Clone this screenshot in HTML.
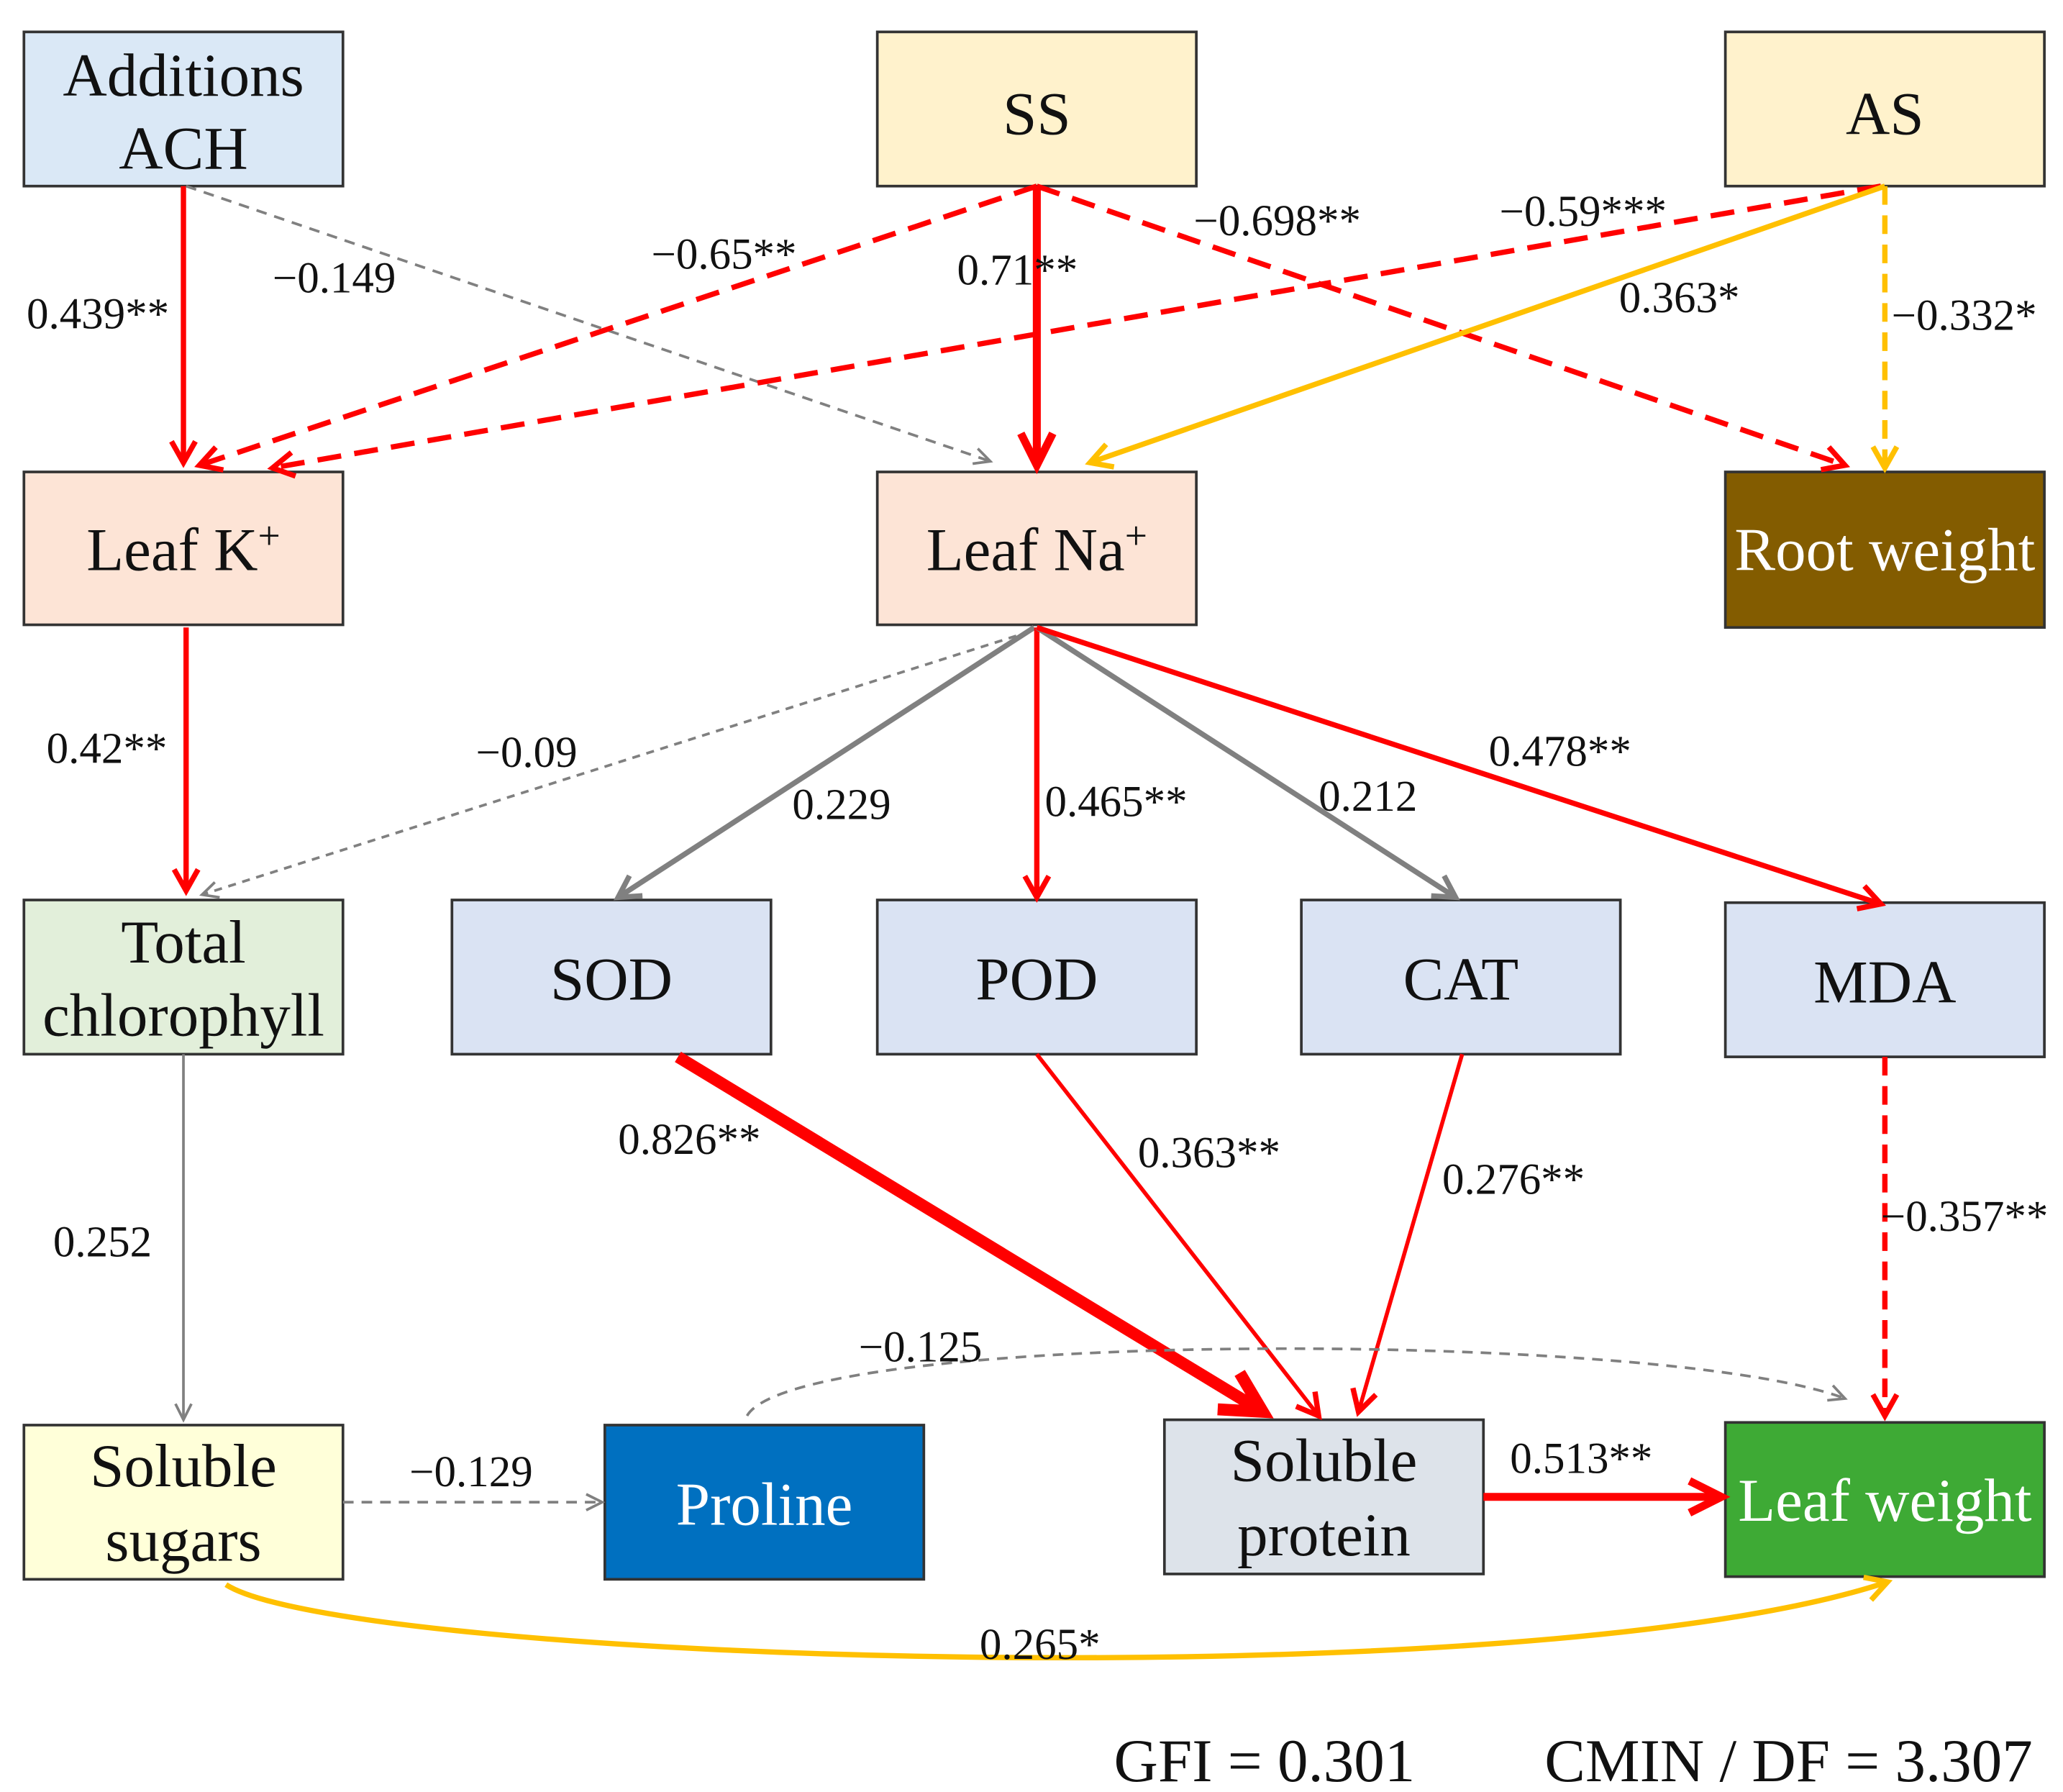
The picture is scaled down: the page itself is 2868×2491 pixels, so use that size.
<!DOCTYPE html>
<html><head><meta charset="utf-8"><style>
html,body{margin:0;padding:0;background:#fff;}
svg{display:block;}
text{font-family:"Liberation Serif",serif;}
</style></head><body>
<svg width="2868" height="2491" viewBox="0 0 1552 1348" xmlns="http://www.w3.org/2000/svg">
<defs>
<marker id="mr" markerUnits="userSpaceOnUse" markerWidth="1" markerHeight="1" refX="0" refY="0" orient="auto" overflow="visible"><path d="M-16,-9 L0,0 L-16,9" fill="none" stroke="#ff0000" stroke-width="4" stroke-dasharray="none"/></marker>
<marker id="mrb" markerUnits="userSpaceOnUse" markerWidth="1" markerHeight="1" refX="0" refY="0" orient="auto" overflow="visible"><path d="M-24,-12 L0,0 L-24,12" fill="none" stroke="#ff0000" stroke-width="6" stroke-dasharray="none"/></marker>
<marker id="mrh" markerUnits="userSpaceOnUse" markerWidth="1" markerHeight="1" refX="0" refY="0" orient="auto" overflow="visible"><path d="M-30,-16 L0,0 L-30,16" fill="none" stroke="#ff0000" stroke-width="9" stroke-dasharray="none"/></marker>
<marker id="mg" markerUnits="userSpaceOnUse" markerWidth="1" markerHeight="1" refX="0" refY="0" orient="auto" overflow="visible"><path d="M-12,-6 L0,0 L-12,6" fill="none" stroke="#808080" stroke-width="2" stroke-dasharray="none"/></marker>
<marker id="mgt" markerUnits="userSpaceOnUse" markerWidth="1" markerHeight="1" refX="0" refY="0" orient="auto" overflow="visible"><path d="M-16,-9 L0,0 L-16,9" fill="none" stroke="#808080" stroke-width="4" stroke-dasharray="none"/></marker>
<marker id="mo" markerUnits="userSpaceOnUse" markerWidth="1" markerHeight="1" refX="0" refY="0" orient="auto" overflow="visible"><path d="M-16,-9 L0,0 L-16,9" fill="none" stroke="#ffc000" stroke-width="4" stroke-dasharray="none"/></marker>
</defs>
<rect width="1552" height="1348" fill="#fff"/>
<g stroke="#333" stroke-width="2">
<rect x="18" y="24" width="240" height="116" fill="#dae8f6"/>
<rect x="660" y="24" width="240" height="116" fill="#fff2cc"/>
<rect x="1298" y="24" width="240" height="116" fill="#fff2cc"/>
<rect x="18" y="355" width="240" height="115" fill="#fde4d6"/>
<rect x="660" y="355" width="240" height="115" fill="#fde4d6"/>
<rect x="1298" y="355" width="240" height="117" fill="#835c00"/>
<rect x="18" y="677" width="240" height="116" fill="#e2efda"/>
<rect x="340" y="677" width="240" height="116" fill="#dae3f3"/>
<rect x="660" y="677" width="240" height="116" fill="#dae3f3"/>
<rect x="979" y="677" width="240" height="116" fill="#dae3f3"/>
<rect x="1298" y="679" width="240" height="116" fill="#dae3f3"/>
<rect x="18" y="1072" width="240" height="116" fill="#ffffd9"/>
<rect x="455" y="1072" width="240" height="116" fill="#0070c0"/>
<rect x="876" y="1068" width="240" height="116" fill="#dde3ea"/>
<rect x="1298" y="1070" width="240" height="116" fill="#3eaa35"/>
</g>
<g font-size="46" text-anchor="middle" fill="#111">
<text x="138" y="72">Additions</text><text x="138" y="127">ACH</text>
<text x="780" y="101">SS</text>
<text x="1418" y="101">AS</text>
<text x="138" y="429">Leaf K<tspan font-size="30" dy="-16">+</tspan></text>
<text x="780" y="429">Leaf Na<tspan font-size="30" dy="-16">+</tspan></text>
<text x="1418" y="429" fill="#fff">Root weight</text>
<text x="138" y="724">Total</text><text x="138" y="779">chlorophyll</text>
<text x="460" y="752">SOD</text>
<text x="780" y="752">POD</text>
<text x="1099" y="752">CAT</text>
<text x="1418" y="754">MDA</text>
<text x="138" y="1118">Soluble</text><text x="138" y="1174">sugars</text>
<text x="575" y="1147" fill="#fff">Proline</text>
<text x="996" y="1114">Soluble</text><text x="996" y="1170">protein</text>
<text x="1418" y="1144" fill="#fff">Leaf weight</text>
</g>
<g fill="none">
<line x1="138" y1="140" x2="138" y2="348" stroke="#ff0000" stroke-width="4" marker-end="url(#mr)"/>
<line x1="140" y1="140" x2="745" y2="347" stroke="#808080" stroke-width="2" stroke-dasharray="8,6" marker-end="url(#mg)"/>
<line x1="780" y1="140" x2="150" y2="350" stroke="#ff0000" stroke-width="4" stroke-dasharray="18,10" marker-end="url(#mr)"/>
<line x1="1415" y1="140" x2="205" y2="352" stroke="#ff0000" stroke-width="4" stroke-dasharray="18,10" marker-end="url(#mr)"/>
<line x1="780" y1="140" x2="780" y2="350" stroke="#ff0000" stroke-width="6" marker-end="url(#mrb)"/>
<line x1="780" y1="140" x2="1388" y2="350" stroke="#ff0000" stroke-width="4" stroke-dasharray="18,10" marker-end="url(#mr)"/>
<line x1="1418" y1="140" x2="820" y2="348" stroke="#ffc000" stroke-width="4" marker-end="url(#mo)"/>
<line x1="1418" y1="140" x2="1418" y2="352" stroke="#ffc000" stroke-width="4" stroke-dasharray="14,8" marker-end="url(#mo)"/>
<line x1="140" y1="472" x2="140" y2="670" stroke="#ff0000" stroke-width="4" marker-end="url(#mr)"/>
<line x1="775" y1="475" x2="152" y2="673" stroke="#808080" stroke-width="2" stroke-dasharray="6,5" marker-end="url(#mg)"/>
<line x1="778" y1="472" x2="465" y2="675" stroke="#808080" stroke-width="4" marker-end="url(#mgt)"/>
<line x1="780" y1="472" x2="780" y2="675" stroke="#ff0000" stroke-width="4" marker-end="url(#mr)"/>
<line x1="780" y1="472" x2="1095" y2="675" stroke="#808080" stroke-width="4" marker-end="url(#mgt)"/>
<line x1="780" y1="472" x2="1415" y2="680" stroke="#ff0000" stroke-width="4" marker-end="url(#mr)"/>
<line x1="138" y1="793" x2="138" y2="1068" stroke="#808080" stroke-width="2" marker-end="url(#mg)"/>
<line x1="510" y1="795" x2="950" y2="1062" stroke="#ff0000" stroke-width="9" marker-end="url(#mrh)"/>
<line x1="780" y1="793" x2="992" y2="1065" stroke="#ff0000" stroke-width="3" marker-end="url(#mr)"/>
<line x1="1100" y1="793" x2="1022" y2="1062" stroke="#ff0000" stroke-width="3" marker-end="url(#mr)"/>
<line x1="1418" y1="795" x2="1418" y2="1065" stroke="#ff0000" stroke-width="4" stroke-dasharray="14,8" marker-end="url(#mr)"/>
<path d="M562,1065 C600,1000 1250,1000 1388,1052" stroke="#808080" stroke-width="2" stroke-dasharray="8,6" marker-end="url(#mg)"/>
<line x1="258" y1="1130" x2="453" y2="1130" stroke="#808080" stroke-width="2" stroke-dasharray="8,6" marker-end="url(#mg)"/>
<line x1="1116" y1="1126" x2="1295" y2="1126" stroke="#ff0000" stroke-width="6" marker-end="url(#mrb)"/>
<path d="M170,1192 C260,1250 1150,1280 1420,1190" stroke="#ffc000" stroke-width="4" marker-end="url(#mo)"/>
</g>
<g font-size="33" fill="#111">
<text x="20" y="247">0.439**</text>
<text x="205" y="220">−0.149</text>
<text x="490" y="202">−0.65**</text>
<text x="1128" y="170">−0.59***</text>
<text x="720" y="214">0.71**</text>
<text x="898" y="177">−0.698**</text>
<text x="1218" y="235">0.363*</text>
<text x="1423" y="248">−0.332*</text>
<text x="35" y="574">0.42**</text>
<text x="358" y="577">−0.09</text>
<text x="596" y="616">0.229</text>
<text x="786" y="614">0.465**</text>
<text x="992" y="610">0.212</text>
<text x="1120" y="576">0.478**</text>
<text x="40" y="945">0.252</text>
<text x="465" y="868">0.826**</text>
<text x="856" y="878">0.363**</text>
<text x="1085" y="898">0.276**</text>
<text x="1415" y="926">−0.357**</text>
<text x="646" y="1024">−0.125</text>
<text x="308" y="1118">−0.129</text>
<text x="1136" y="1108">0.513**</text>
<text x="737" y="1248">0.265*</text>
</g>
<g font-size="46" fill="#111">
<text x="838" y="1340">GFI = 0.301</text>
<text x="1162" y="1340">CMIN / DF = 3.307</text>
</g>
</svg>
</body></html>
